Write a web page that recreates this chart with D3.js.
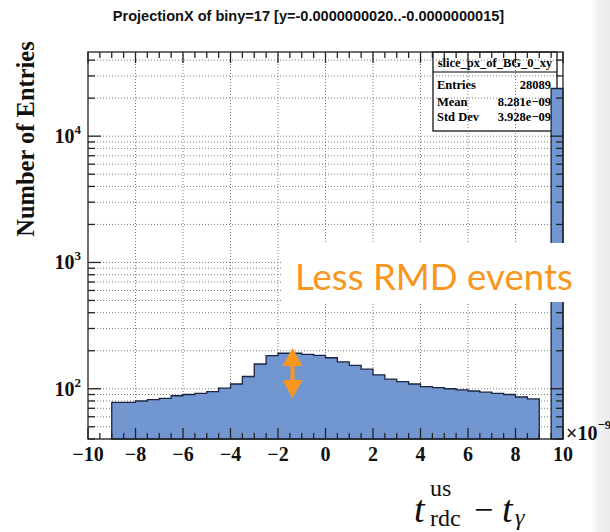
<!DOCTYPE html>
<html>
<head>
<meta charset="utf-8">
<script src="https://cdn.jsdelivr.net/npm/d3@7"></script>
<style>
  html, body { margin: 0; padding: 0; background: #fff; }
  svg { display: block; }
</style>
</head>
<body>
<svg id="chart" width="610" height="532"></svg>
<script>
// ---- data -------------------------------------------------------------
const title = "ProjectionX of biny=17 [y=-0.0000000020..-0.0000000015]";
const histName = "slice_px_of_BG_0_xy";
const statLabels = ["Entries", "Mean", "Std Dev"];
const statValues = ["28089", "8.281e\u221209", "3.928e\u221209"];

// lower edges of the 0.5-wide bins and their entries
const binWidth = 0.5;
const binLow = [-9, -8.5, -8, -7.5, -7, -6.5, -6, -5.5, -5, -4.5, -4, -3.5,
                -3, -2.5, -2, -1.5, -1, -0.5, 0, 0.5, 1, 1.5, 2, 2.5,
                3, 3.5, 4, 4.5, 5, 5.5, 6, 6.5, 7, 7.5, 8, 8.5];
const binCounts = [78, 78, 80, 82, 84, 88, 90, 92, 95, 101, 109, 125,
                   157, 183, 191, 191, 187, 184, 176, 163, 153, 143, 129, 119,
                   114, 109, 104, 102, 100, 98, 96, 94, 92, 90, 86, 83];
// spike in the last bin
const spikeLow = [9.5];
const spikeCounts = [23845];

const xDomain = [-10, 10];
const yDomain = [40, 46400];
const xTickLabels = ["\u221210", "\u22128", "\u22126", "\u22124", "\u22122", "0", "2", "4", "6", "8", "10"];
const yMajorExp = ["2", "3", "4"];
const annotation = "Less RMD events";

// ---- layout -----------------------------------------------------------
const W = 610, H = 532;
const L = 88, R = 563, T = 52, B = 439;
const svg = d3.select("#chart");
const serif = "'Liberation Serif', 'Times New Roman', serif";
const sans = "'Liberation Sans', Arial, Helvetica, sans-serif";

const x = d3.scaleLinear().domain(xDomain).range([L, R]);
const y = d3.scaleLog().domain(yDomain).range([B, T]);

function fitWidth(sel, size, target) {
  const w = sel.node().getComputedTextLength();
  sel.attr("font-size", size * target / w);
}

// title
const ttl = svg.append("text")
  .attr("x", 308.5).attr("y", 21)
  .attr("text-anchor", "middle")
  .attr("font-family", sans).attr("font-weight", "bold").attr("font-size", 14)
  .attr("fill", "#111")
  .text(title);
fitWidth(ttl, 14, 392);

// statistics box (drawn first: grid and bars pass over it)
const sb = { x0: 433, x1: 557, y0: 52, y1: 131 };
const stats = svg.append("g");
stats.append("rect")
  .attr("x", sb.x0).attr("y", sb.y0).attr("width", sb.x1 - sb.x0).attr("height", sb.y1 - sb.y0)
  .attr("fill", "#fff").attr("stroke", "#000").attr("stroke-width", 1.2);
stats.append("line")
  .attr("x1", sb.x0).attr("x2", sb.x1).attr("y1", 72).attr("y2", 72)
  .attr("stroke", "#000").attr("stroke-width", 1.2);
stats.append("text")
  .attr("x", (sb.x0 + sb.x1) / 2).attr("y", 67).attr("text-anchor", "middle")
  .attr("font-family", serif).attr("font-weight", "bold").attr("font-size", 12.5)
  .text(histName);
const rowY = [89, 106, 121];
statLabels.forEach((lab, i) => {
  stats.append("text").attr("x", 437).attr("y", rowY[i])
    .attr("font-family", serif).attr("font-weight", "bold").attr("font-size", 12.5)
    .text(lab);
  stats.append("text").attr("x", 551).attr("y", rowY[i]).attr("text-anchor", "end")
    .attr("font-family", serif).attr("font-weight", "bold").attr("font-size", 12.5)
    .text(statValues[i]);
});

// grid: dotted lines at major x ticks and every log tick
const grid = svg.append("g")
  .attr("stroke", "#7a7a7a").attr("stroke-width", 1).attr("stroke-dasharray", "1,2");
x.ticks(10).filter(v => v > xDomain[0] && v < xDomain[1]).forEach(v => {
  grid.append("line").attr("x1", x(v)).attr("x2", x(v)).attr("y1", T).attr("y2", B);
});
y.ticks().forEach(v => {
  grid.append("line").attr("x1", L).attr("x2", R).attr("y1", y(v)).attr("y2", y(v));
});

// histogram as filled step outlines
function stepPath(lows, counts) {
  let p = `M${x(lows[0])},${B}`;
  lows.forEach((lo, i) => { p += `V${y(counts[i])}H${x(lo + binWidth)}`; });
  return p + `V${B}Z`;
}
const hist = svg.append("g");
[[binLow, binCounts], [spikeLow, spikeCounts]].forEach(([lo, c]) => {
  hist.append("path")
    .attr("d", stepPath(lo, c))
    .attr("fill", "#7196d0")
    .attr("stroke", "#1b2440").attr("stroke-width", 1.3);
});

// frame and ticks
const axes = svg.append("g").attr("stroke", "#222").attr("stroke-width", 1.3);
y.ticks().forEach(v => {
  const major = Math.abs(Math.log10(v) - Math.round(Math.log10(v))) < 1e-9;
  const len = major ? 13 : 7;
  axes.append("line").attr("x1", L).attr("x2", L + len).attr("y1", y(v)).attr("y2", y(v));
  axes.append("line").attr("x1", R).attr("x2", R - len).attr("y1", y(v)).attr("y2", y(v));
});
const majorX = x.ticks(10);
x.ticks(40).forEach(v => {
  const major = majorX.some(m => Math.abs(m - v) < 1e-9);
  const len = major ? 11 : 6;
  axes.append("line").attr("x1", x(v)).attr("x2", x(v)).attr("y1", B).attr("y2", B - len);
  axes.append("line").attr("x1", x(v)).attr("x2", x(v)).attr("y1", T).attr("y2", T + len);
});
axes.append("rect")
  .attr("x", L).attr("y", T).attr("width", R - L).attr("height", B - T)
  .attr("fill", "none");

// x tick labels
majorX.forEach((v, i) => {
  svg.append("text")
    .attr("x", x(v)).attr("y", 461).attr("text-anchor", "middle")
    .attr("font-family", serif).attr("font-weight", "bold").attr("font-size", 20)
    .attr("fill", "#111")
    .text(xTickLabels[i]);
});

// y tick labels 10^n
y.ticks().filter(v => Math.abs(Math.log10(v) - Math.round(Math.log10(v))) < 1e-9).forEach((v, i) => {
  const t = svg.append("text")
    .attr("x", 81).attr("y", y(v) + 7).attr("text-anchor", "end")
    .attr("font-family", serif).attr("font-weight", "bold").attr("font-size", 20)
    .attr("fill", "#111");
  t.append("tspan").text("10");
  t.append("tspan").attr("dy", -9).attr("font-size", 13).text(yMajorExp[i]);
});

// y axis title
svg.append("text")
  .attr("transform", `translate(34,139) rotate(-90)`)
  .attr("text-anchor", "middle")
  .attr("font-family", serif).attr("font-weight", "bold").attr("font-size", 24.5)
  .attr("fill", "#111")
  .text("Number of Entries");

// annotation: white panel, orange double arrow, note
svg.append("rect")
  .attr("x", 282).attr("y", 243).attr("width", 315).attr("height", 59)
  .attr("fill", "#fff");
const ax = 292.5, orange = "#f8961e";
svg.append("path")
  .attr("d", `M${ax},348 L${ax + 10},366 L${ax + 2},366 L${ax + 2},380 L${ax + 10},380 L${ax},398 ` +
             `L${ax - 10},380 L${ax - 2},380 L${ax - 2},366 L${ax - 10},366 Z`)
  .attr("fill", orange);
const note = svg.append("text")
  .attr("x", 295).attr("y", 290)
  .attr("font-family", "Lato, 'Open Sans', sans-serif").attr("font-weight", 400)
  .attr("font-size", 38).attr("fill", orange)
  .text(annotation);
fitWidth(note, 38, 278);

// light shading along the right border
const defs = svg.append("defs");
const grad = defs.append("linearGradient").attr("id", "edge").attr("x1", "0").attr("x2", "1");
grad.append("stop").attr("offset", "0").attr("stop-color", "#efefef").attr("stop-opacity", 0);
grad.append("stop").attr("offset", "0.45").attr("stop-color", "#efefef").attr("stop-opacity", 1);
grad.append("stop").attr("offset", "1").attr("stop-color", "#ebebeb").attr("stop-opacity", 1);
svg.append("rect").attr("x", 591).attr("y", 0).attr("width", 19).attr("height", H)
  .attr("fill", "url(#edge)");

// exponent multiplier of the x axis
const mult = svg.append("text")
  .attr("x", 566).attr("y", 440)
  .attr("font-family", serif).attr("font-weight", "bold").attr("font-size", 20)
  .attr("fill", "#111");
mult.append("tspan").text("\u00d710");
mult.append("tspan").attr("dy", -11).attr("font-size", 13).text("\u22129");

// x axis title: t_rdc^us − t_γ
const xt = svg.append("g").attr("font-family", serif).attr("fill", "#111");
xt.append("text").attr("x", 414).attr("y", 522).attr("font-size", 38).attr("font-style", "italic").text("t");
xt.append("text").attr("x", 430).attr("y", 496).attr("font-size", 24).text("us");
xt.append("text").attr("x", 430).attr("y", 526).attr("font-size", 24).text("rdc");
xt.append("text").attr("x", 474).attr("y", 521).attr("font-size", 34).text("\u2212");
xt.append("text").attr("x", 502).attr("y", 522).attr("font-size", 38).attr("font-style", "italic").text("t");
xt.append("text").attr("x", 515).attr("y", 525).attr("font-size", 24).attr("font-style", "italic").text("\u03b3");
</script>
</body>
</html>
